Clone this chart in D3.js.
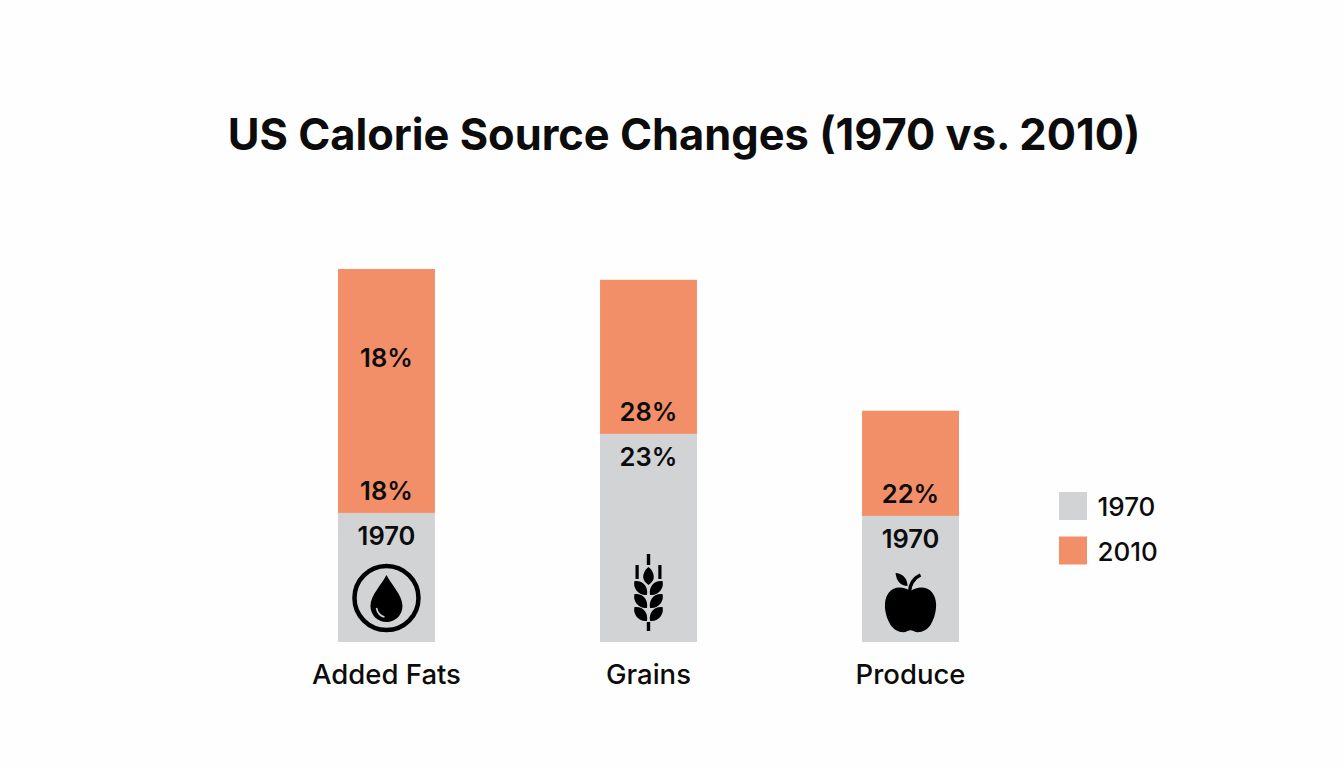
<!DOCTYPE html>
<html>
<head>
<meta charset="utf-8">
<title>US Calorie Source Changes</title>
<script src="https://cdn.jsdelivr.net/npm/d3@7"></script>
<style>
  html, body { margin: 0; padding: 0; background: #fefefe; overflow: hidden; }
  svg { display: block; }
  text { font-family: Inter, "Open Sans", sans-serif; fill: #0c0c0c; }
</style>
</head>
<body>
<div id="chart"></div>
<script>
// Values (bar segment heights, tallest bar = 100)
const categories = ['Added Fats', 'Grains', 'Produce'];
const values1970 = [34.6, 55.8, 33.8];
const values2010 = [65.4, 41.3, 28.2];

// Labels as printed in the chart
const upperLabels = ['18%', '', ''];
const orangeLabels = ['18%', '28%', '22%'];
const greyLabels = ['1970', '23%', '1970'];
const legendLabels = ['1970', '2010'];
const chartTitle = 'US Calorie Source Changes (1970 vs. 2010)';

const colors = { grey: '#d2d3d5', orange: '#f28f68', ink: '#000000' };

const svg = d3.select('#chart').append('svg')
  .attr('width', 1344)
  .attr('height', 768);

svg.append('text')
  .attr('x', 684)
  .attr('y', 150)
  .attr('text-anchor', 'middle')
  .style('font-size', '43.4px')
  .style('font-weight', 700)
  .text(chartTitle);

// Scales
const xScale = d3.scaleBand()
  .domain(categories)
  .range([338, 959])
  .paddingInner(0.63)
  .paddingOuter(0);

const yScale = d3.scaleLinear().domain([0, 100]).range([642, 269]);

const bars = svg.selectAll('.bar')
  .data(categories.map((name, i) => ({
    name, i,
    v1970: values1970[i],
    v2010: values2010[i],
    upper: upperLabels[i],
    orange: orangeLabels[i],
    grey: greyLabels[i]
  })))
  .enter().append('g')
  .attr('class', 'bar')
  .attr('transform', d => `translate(${xScale(d.name)},0)`);

bars.append('rect')
  .attr('y', d => yScale(d.v1970))
  .attr('width', xScale.bandwidth())
  .attr('height', d => yScale(0) - yScale(d.v1970))
  .attr('fill', colors.grey);

bars.append('rect')
  .attr('y', d => yScale(d.v1970 + d.v2010))
  .attr('width', xScale.bandwidth())
  .attr('height', d => yScale(d.v1970) - yScale(d.v1970 + d.v2010))
  .attr('fill', colors.orange);

const mid = xScale.bandwidth() / 2;

function barLabel(cls, text, y) {
  bars.append('text')
    .attr('class', cls)
    .attr('x', mid)
    .attr('y', y)
    .attr('text-anchor', 'middle')
    .attr('dominant-baseline', 'central')
    .style('font-size', '25.5px')
    .style('font-weight', 600)
    .text(text);
}

barLabel('upper', d => d.upper, d => yScale(d.v1970 + d.v2010) + 88.5);
barLabel('orange', d => d.orange, d => yScale(d.v1970) - 22);
barLabel('grey', d => d.grey, d => yScale(d.v1970) + 22.5);

bars.append('text')
  .attr('x', mid)
  .attr('y', 674)
  .attr('text-anchor', 'middle')
  .attr('dominant-baseline', 'central')
  .style('font-size', '27.5px')
  .style('font-weight', 500)
  .text(d => d.name);

// Icons, drawn around the centre of each bar
const icons = bars.append('g')
  .attr('transform', `translate(${mid},0)`)
  .attr('fill', colors.ink);

// drop in a ring
const drop = icons.filter(d => d.i === 0).append('g').attr('transform', 'translate(0,598)');
drop.append('circle').attr('r', 32).attr('fill', 'none').attr('stroke', colors.ink).attr('stroke-width', 4.5);
drop.append('path').attr('d', 'M0,-23 C5,-13 16,-3 16,8 C16,17 9,24 0,24 C-9,24 -16,17 -16,8 C-16,-3 -5,-13 0,-23Z');
drop.append('path')
  .attr('d', 'M-10,10 C-9,15 -6,18 -2,19')
  .attr('fill', 'none').attr('stroke', colors.grey).attr('stroke-width', 1.6);

// wheat ear
const wheat = icons.filter(d => d.i === 1).append('g').attr('transform', 'translate(0,592)');
wheat.append('rect').attr('x', -1.7).attr('y', -38).attr('width', 3.4).attr('height', 11);
wheat.append('rect').attr('x', -1.7).attr('y', 30).attr('width', 3.4).attr('height', 9);
wheat.append('rect').attr('x', -13).attr('y', -27).attr('width', 3.2).attr('height', 14);
wheat.append('rect').attr('x', 9.8).attr('y', -27).attr('width', 3.2).attr('height', 14);
wheat.append('path').attr('d', 'M0,-25 C4,-22 6,-17 5,-13 C4,-10 2,-9 0,-7 C-2,-9 -4,-10 -5,-13 C-6,-17 -4,-22 0,-25Z');
[-11, 2, 15].forEach(y => {
  wheat.append('path').attr('d', `M-1.5,${y + 14} C-10,${y + 15} -16,${y + 7} -14,${y} C-6,${y - 1} 0,${y + 5} -1.5,${y + 14}Z`);
  wheat.append('path').attr('d', `M1.5,${y + 14} C10,${y + 15} 16,${y + 7} 14,${y} C6,${y - 1} 0,${y + 5} 1.5,${y + 14}Z`);
});

// apple
const apple = icons.filter(d => d.i === 2).append('g').attr('transform', 'translate(0,606)');
apple.append('path').attr('d', 'M0,-15 C7,-20 17,-20 22,-13 C28,-5 26,9 20,19 C16,25 8,28 3,25 C1,24 -1,24 -3,25 C-8,28 -16,25 -20,19 C-26,9 -28,-5 -22,-13 C-17,-20 -7,-20 0,-15Z');
apple.append('path').attr('d', 'M-1,-14 C-1,-21 3,-28 10,-31').attr('fill', 'none').attr('stroke', colors.ink).attr('stroke-width', 3.4);
apple.append('path').attr('d', 'M-15,-33 C-9,-33 -3,-28 -3,-20 C-10,-20 -14,-25 -15,-33Z');

// Legend
const legend = svg.selectAll('.legend')
  .data(legendLabels)
  .enter().append('g')
  .attr('class', 'legend')
  .attr('transform', (d, i) => `translate(1059,${492 + i * 44.5})`);

legend.append('rect')
  .attr('width', 28)
  .attr('height', 28)
  .attr('fill', (d, i) => i === 0 ? colors.grey : colors.orange);

legend.append('text')
  .attr('x', 38.5)
  .attr('y', 14.5)
  .attr('dominant-baseline', 'central')
  .style('font-size', '26px')
  .style('font-weight', 500)
  .text(d => d);
</script>
</body>
</html>
